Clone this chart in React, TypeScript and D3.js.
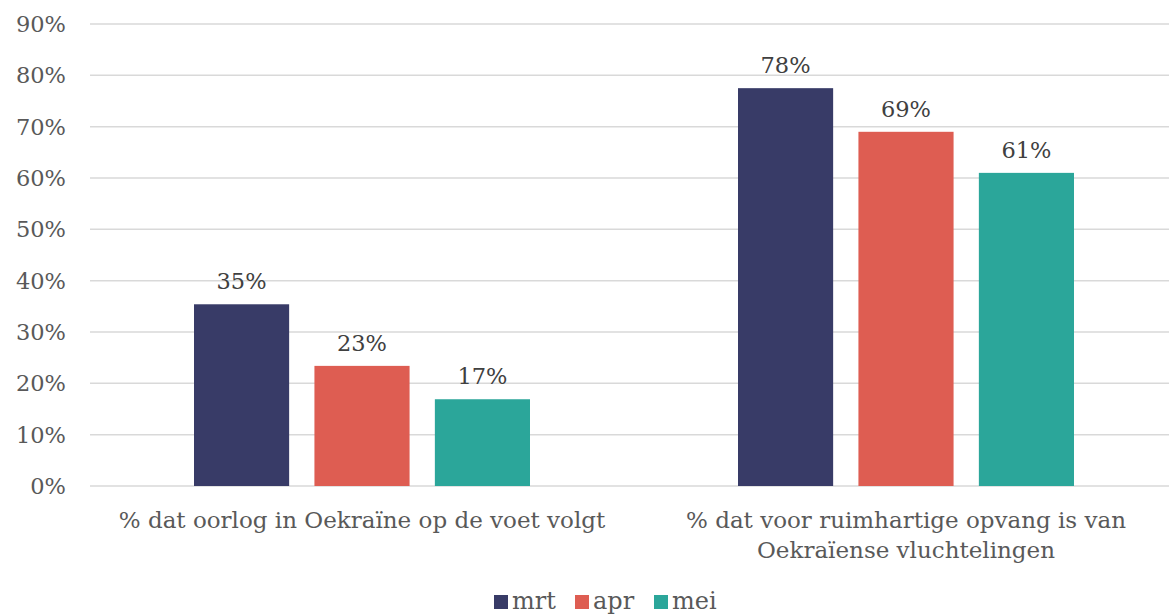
import { useEffect, useRef } from 'react';
import * as d3 from 'd3';

const categories = [
    ['% dat oorlog in Oekraïne op de voet volgt'],
    ['% dat voor ruimhartige opvang is van', 'Oekraïense vluchtelingen'],
];
const months = ['mrt', 'apr', 'mei'];
const mrtValues = [35.4, 77.5];
const aprValues = [23.4, 69.0];
const meiValues = [16.9, 61.0];
const yTicks = [0, 10, 20, 30, 40, 50, 60, 70, 80, 90];

const colors = ['#383b67', '#de5d52', '#2ba69a'];
const font = "'DejaVu Serif', serif";

const App = () => {
    const svgRef = useRef(null);
    const width = 1169;
    const height = 615;

    useEffect(() => {
        const svg = d3.select(svgRef.current);
        svg.selectAll('*').remove();

        const series = [mrtValues, aprValues, meiValues];

        const x = d3.scaleBand()
            .domain(d3.range(categories.length).map(String))
            .range([90, 1178])
            .padding(0);

        const xSub = d3.scaleBand()
            .domain(months)
            .range([104, 440])
            .paddingInner(0.21)
            .paddingOuter(0);

        const y = d3.scaleLinear()
            .domain([0, 90])
            .range([486, 24]);

        // gridlines
        svg.append('g')
            .selectAll('line')
            .data(yTicks)
            .join('line')
            .attr('x1', 90)
            .attr('x2', width)
            .attr('y1', d => y(d))
            .attr('y2', d => y(d))
            .attr('stroke', '#d9d9d9')
            .attr('stroke-width', 1.5);

        // y labels
        svg.append('g')
            .selectAll('text')
            .data(yTicks)
            .join('text')
            .attr('x', 66)
            .attr('y', d => y(d))
            .attr('dy', '0.35em')
            .attr('text-anchor', 'end')
            .attr('font-family', font)
            .attr('font-size', 22.5)
            .attr('fill', '#595959')
            .text(d => d + '%');

        // bars
        categories.forEach((c, i) => {
            const g = svg.append('g')
                .attr('transform', 'translate(' + x(String(i)) + ',0)');
            months.forEach((m, j) => {
                const v = series[j][i];
                g.append('rect')
                    .attr('x', xSub(m))
                    .attr('y', y(v))
                    .attr('width', xSub.bandwidth())
                    .attr('height', y(0) - y(v))
                    .attr('fill', colors[j]);
                g.append('text')
                    .attr('x', xSub(m) + xSub.bandwidth() / 2)
                    .attr('y', y(v) - 15)
                    .attr('text-anchor', 'middle')
                    .attr('font-family', font)
                    .attr('font-size', 22.5)
                    .attr('fill', '#404040')
                    .text(Math.round(v) + '%');
            });

            // category label
            const t = svg.append('text')
                .attr('x', x(String(i)) + x.bandwidth() / 2)
                .attr('y', 528)
                .attr('text-anchor', 'middle')
                .attr('font-family', font)
                .attr('font-size', 23)
                .attr('fill', '#595959');
            c.forEach((line, k) => {
                t.append('tspan')
                    .attr('x', x(String(i)) + x.bandwidth() / 2)
                    .attr('dy', k === 0 ? 0 : 30)
                    .text(line);
            });
        });

        // legend
        const legendX = [494, 575, 654];
        const legend = svg.append('g');
        months.forEach((m, j) => {
            legend.append('rect')
                .attr('x', legendX[j])
                .attr('y', 595)
                .attr('width', 14)
                .attr('height', 14)
                .attr('fill', colors[j]);
            legend.append('text')
                .attr('x', legendX[j] + 18)
                .attr('y', 609)
                .attr('font-family', font)
                .attr('font-size', 24)
                .attr('fill', '#595959')
                .text(m);
        });
    }, []);

    return (
        <div style={{ position: 'absolute', left: 0, top: 0 }}>
            <svg ref={svgRef} width={width} height={height} style={{ display: 'block', background: '#fff' }}></svg>
        </div>
    );
};

export default App;
